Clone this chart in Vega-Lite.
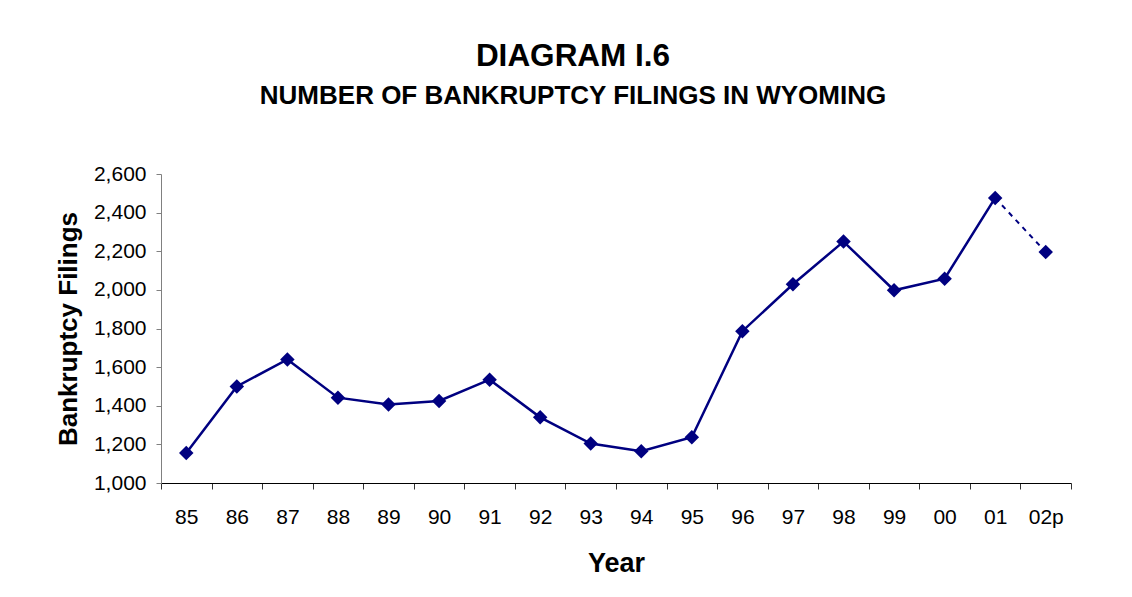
{
  "$schema": "https://vega.github.io/schema/vega-lite/v6.json",
  "width": 910,
  "height": 309,
  "autosize": {"type": "none"},
  "padding": {"left": 161, "top": 174, "right": 61, "bottom": 114},
  "background": "white",
  "config": {
    "font": "Liberation Sans",
    "view": {"stroke": null}
  },
  "title": {
    "text": "DIAGRAM I.6",
    "subtitle": "NUMBER OF BANKRUPTCY FILINGS IN WYOMING",
    "anchor": "middle",
    "dx": -43,
    "offset": 54,
    "fontSize": 31.5,
    "fontWeight": "bold",
    "color": "black",
    "subtitleFontSize": 26,
    "subtitleFontWeight": "bold",
    "subtitleColor": "black",
    "subtitlePadding": 11,
    "font": "Liberation Sans",
    "subtitleFont": "Liberation Sans"
  },
  "data": {
    "values": [
      {"year": "85", "filings": 1155},
      {"year": "86", "filings": 1500},
      {"year": "87", "filings": 1640},
      {"year": "88", "filings": 1442},
      {"year": "89", "filings": 1406},
      {"year": "90", "filings": 1425},
      {"year": "91", "filings": 1535},
      {"year": "92", "filings": 1340},
      {"year": "93", "filings": 1204},
      {"year": "94", "filings": 1164},
      {"year": "95", "filings": 1237},
      {"year": "96", "filings": 1786},
      {"year": "97", "filings": 2029},
      {"year": "98", "filings": 2250},
      {"year": "99", "filings": 1998},
      {"year": "00", "filings": 2058},
      {"year": "01", "filings": 2476},
      {"year": "02p", "filings": 2196}
    ]
  },
  "encoding": {
    "x": {
      "field": "year",
      "type": "ordinal",
      "scale": {
        "type": "band",
        "paddingInner": 0,
        "paddingOuter": 0,
        "domain": ["85","86","87","88","89","90","91","92","93","94","95","96","97","98","99","00","01","02p"]
      },
      "axis": {
        "title": "Year",
        "titleFontSize": 27,
        "titleFontWeight": "bold",
        "titleColor": "black",
        "titlePadding": 23,
        "labelAngle": 0,
        "labelFontSize": 21,
        "labelColor": "black",
        "labelPadding": 17,
        "tickBand": "extent",
        "tickSize": 6,
        "tickColor": "#333333",
        "domainColor": "black",
        "grid": false
      }
    },
    "y": {
      "field": "filings",
      "type": "quantitative",
      "scale": {"domain": [1000, 2600], "nice": false, "zero": false},
      "axis": {
        "title": "Bankruptcy Filings",
        "titleFontSize": 26,
        "titleFontWeight": "bold",
        "titleColor": "black",
        "titlePadding": 12,
        "values": [1000, 1200, 1400, 1600, 1800, 2000, 2200, 2400, 2600],
        "format": ",.0f",
        "labelFontSize": 21,
        "labelColor": "black",
        "labelPadding": 10,
        "tickSize": 5,
        "tickColor": "#808080",
        "domainColor": "#808080",
        "grid": false
      }
    }
  },
  "layer": [
    {
      "transform": [{"filter": "datum.year != '02p'"}],
      "mark": {"type": "line", "color": "#000080", "strokeWidth": 2.5}
    },
    {
      "transform": [{"filter": {"field": "year", "oneOf": ["01", "02p"]}}],
      "mark": {"type": "line", "color": "#000080", "strokeWidth": 2, "strokeDash": [5, 5]}
    },
    {
      "mark": {"type": "point", "shape": "diamond", "filled": true, "color": "#000080", "opacity": 1, "size": 210}
    }
  ]
}
